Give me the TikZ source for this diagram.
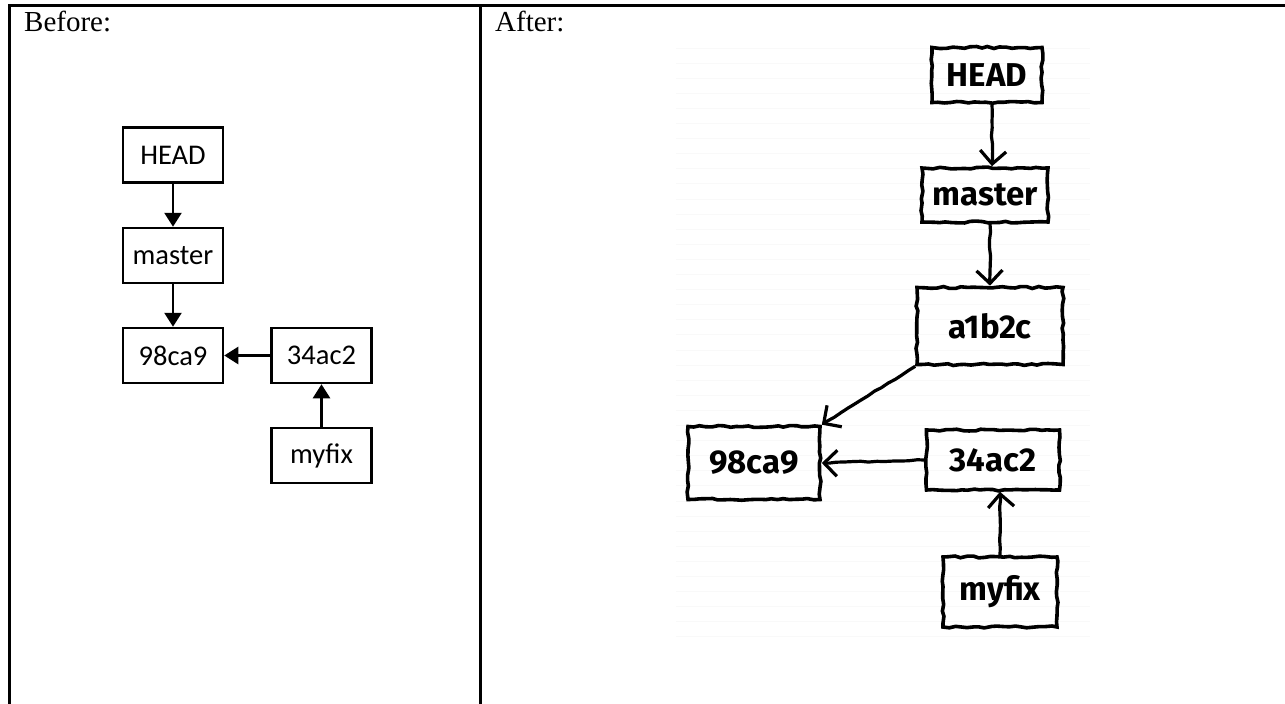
\documentclass[tikz,border=0pt]{standalone}
\usepackage{fontspec}
\setmainfont{Liberation Serif}
\newfontfamily\calfont{Carlito}
\newfontfamily\handfont{Fira Sans}
\usetikzlibrary{arrows.meta,decorations.pathmorphing}
\begin{document}
\begin{tikzpicture}[x=1pt,y=-1pt,
  frame/.style={line width=3pt},
  title/.style={anchor=north west,inner sep=0pt,font=\fontsize{29}{31}\selectfont},
  lbox/.style={draw,line width=2.5pt,minimum width=100pt,minimum height=55pt,inner sep=0pt,font=\calfont\fontsize{28.5}{30}\selectfont},
  larrow/.style={line width=2.5pt,-{Triangle[length=14pt,width=17pt]}},
  rbox/.style={draw,line width=3.6pt,inner sep=0pt,font=\handfont\bfseries\fontsize{33}{35}\selectfont,
     decorate,decoration={random steps,segment length=6pt,amplitude=1pt}},
  rarrow/.style={line width=3.2pt,-{Straight Barb[length=13pt,width=26pt,line width=3.2pt]},
     decorate,decoration={random steps,segment length=8pt,amplitude=0.6pt}},
  paper/.style={draw=black!2.5,line width=1pt}
]
\pgfmathsetseed{7}
\useasboundingbox (0,0) rectangle (1285,704);
\fill[white] (0,0) rectangle (1285,704);
% table frame
\draw[frame] (8,5.5) -- (1285,5.5);
\draw[frame] (9.5,4) -- (9.5,704);
\draw[frame] (480.5,4) -- (480.5,704);
\node[title] (tb) at (24,11) {Before:};
\node[title] (ta) at (495,11) {After:};
% before diagram
\node[lbox] (lhead) at (173,155) {HEAD};
\node[lbox] (lmaster) at (173,255.5) {master};
\node[lbox] (l98) at (173,355.5) {98ca9};
\node[lbox] (l34) at (321.5,355.5) {34ac2};
\node[lbox] (lfix) at (321.5,455.5) {myfix};
\draw[larrow] (lhead) -- (lmaster);
\draw[larrow] (lmaster) -- (l98);
\draw[larrow] (l34) -- (l98);
\draw[larrow] (lfix) -- (l34);
% paper lines
\foreach \k in {0,...,39} {
  \draw[paper] (676,{48+15.1*\k}) -- (1090,{48+15.1*\k});
}
% after diagram
\node[rbox,minimum width=110pt,minimum height=55pt] (rhead) at (987,75) {HEAD};
\node[rbox,minimum width=126pt,minimum height=54pt] (rmaster) at (985,195) {master};
\node[rbox,minimum width=146pt,minimum height=77pt] (ra1) at (990,326) {a1b2c};
\node[rbox,minimum width=132pt,minimum height=73pt] (r98) at (754,463) {98ca9};
\node[rbox,minimum width=133pt,minimum height=60pt] (r34) at (993,460) {34ac2};
\node[rbox,minimum width=114pt,minimum height=70pt] (rfix) at (1000,592) {myfix};
\draw[rarrow] (rhead.south -| 992,0) -- (rmaster.north -| 992,0);
\draw[rarrow] (rmaster.south -| 990,0) -- (ra1.north -| 990,0);
\draw[rarrow] (ra1.south west) -- (r98.north east);
\draw[rarrow] (r34.west) -- (r98.east);
\draw[rarrow] (rfix.north -| 1000,0) -- (r34.south -| 1000,0);
\end{tikzpicture}
\end{document}
